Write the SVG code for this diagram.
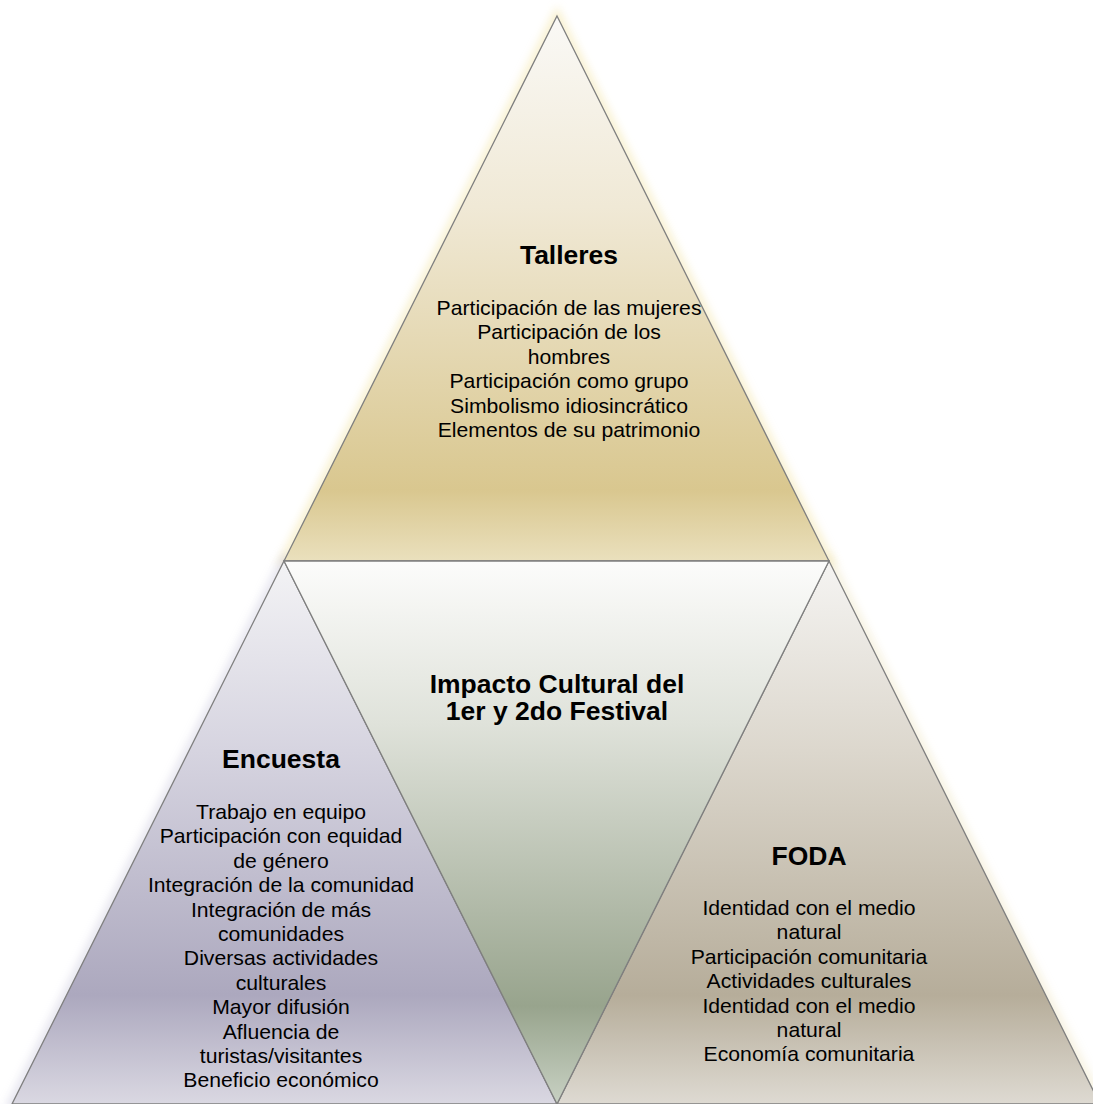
<svg xmlns="http://www.w3.org/2000/svg" width="1093" height="1104" viewBox="0 0 1093 1104">
<style>
.tri{stroke:#7f7f7f;stroke-width:1.3;stroke-linejoin:miter}
.glow{fill:none;stroke-width:9;opacity:0.55;filter:url(#blur)}
text{font-family:"Liberation Sans",Arial,sans-serif;fill:#000;text-anchor:middle}
.t{font-size:25px;font-weight:bold}
.b{font-size:20px}
</style>
<defs>
<filter id="blur" x="-20%" y="-20%" width="140%" height="140%"><feGaussianBlur stdDeviation="4"/></filter>
<linearGradient id="gTop" gradientUnits="userSpaceOnUse" x1="0" y1="16" x2="0" y2="561">
<stop offset="0" stop-color="#faf9f6"/>
<stop offset="0.35" stop-color="#f0e9d6"/>
<stop offset="0.87" stop-color="#d9c78f"/>
<stop offset="1" stop-color="#eae0bd"/>
</linearGradient>
<linearGradient id="gLeft" gradientUnits="userSpaceOnUse" x1="0" y1="561" x2="0" y2="1104">
<stop offset="0" stop-color="#f3f3f5"/>
<stop offset="0.35" stop-color="#d6d4e0"/>
<stop offset="0.8" stop-color="#aca8be"/>
<stop offset="1" stop-color="#dad8e2"/>
</linearGradient>
<linearGradient id="gMid" gradientUnits="userSpaceOnUse" x1="0" y1="561" x2="0" y2="1104">
<stop offset="0" stop-color="#fcfcfb"/>
<stop offset="0.3" stop-color="#dfe2da"/>
<stop offset="0.82" stop-color="#98a48d"/>
<stop offset="1" stop-color="#c8d1c3"/>
</linearGradient>
<linearGradient id="gRight" gradientUnits="userSpaceOnUse" x1="0" y1="561" x2="0" y2="1104">
<stop offset="0" stop-color="#f5f4f2"/>
<stop offset="0.35" stop-color="#dcd7cd"/>
<stop offset="0.8" stop-color="#b6ad9a"/>
<stop offset="1" stop-color="#dedad2"/>
</linearGradient>
</defs>
<rect width="1093" height="1104" fill="#ffffff"/>
<g id="glows">
<polygon class="glow" stroke="#f3e4a6" points="557,16 829,561 284,561"/>
<polygon class="glow" stroke="#cfcde0" points="284,561 557,1104 12,1104"/>
<polygon class="glow" stroke="#efe6c4" points="829,561 1100,1104 557,1104"/>
</g>
<g id="talleres">
<polygon class="tri" fill="url(#gTop)" points="557,16 829,561 284,561"/>
<text class="t" transform="translate(569,0) scale(1.06,1)" x="0" y="264">Talleres</text>
<g class="b">
<text class="b" transform="translate(569,0) scale(1.06,1)" x="0" y="315">Participación de las mujeres</text>
<text class="b" transform="translate(569,0) scale(1.06,1)" x="0" y="339.4">Participación de los</text>
<text class="b" transform="translate(569,0) scale(1.06,1)" x="0" y="363.8">hombres</text>
<text class="b" transform="translate(569,0) scale(1.06,1)" x="0" y="388.2">Participación como grupo</text>
<text class="b" transform="translate(569,0) scale(1.06,1)" x="0" y="412.6">Simbolismo idiosincrático</text>
<text class="b" transform="translate(569,0) scale(1.06,1)" x="0" y="437">Elementos de su patrimonio</text>
</g>
</g>
<g id="encuesta">
<polygon class="tri" fill="url(#gLeft)" points="284,561 557,1104 12,1104"/>
<text class="t" transform="translate(281,0) scale(1.06,1)" x="0" y="768">Encuesta</text>
<text class="b" transform="translate(281,0) scale(1.06,1)" x="0" y="819">Trabajo en equipo</text>
<text class="b" transform="translate(281,0) scale(1.06,1)" x="0" y="843.4">Participación con equidad</text>
<text class="b" transform="translate(281,0) scale(1.06,1)" x="0" y="867.8">de género</text>
<text class="b" transform="translate(281,0) scale(1.06,1)" x="0" y="892.2">Integración de la comunidad</text>
<text class="b" transform="translate(281,0) scale(1.06,1)" x="0" y="916.6">Integración de más</text>
<text class="b" transform="translate(281,0) scale(1.06,1)" x="0" y="941">comunidades</text>
<text class="b" transform="translate(281,0) scale(1.06,1)" x="0" y="965.4">Diversas actividades</text>
<text class="b" transform="translate(281,0) scale(1.06,1)" x="0" y="989.8">culturales</text>
<text class="b" transform="translate(281,0) scale(1.06,1)" x="0" y="1014.2">Mayor difusión</text>
<text class="b" transform="translate(281,0) scale(1.06,1)" x="0" y="1038.6">Afluencia de</text>
<text class="b" transform="translate(281,0) scale(1.06,1)" x="0" y="1063">turistas/visitantes</text>
<text class="b" transform="translate(281,0) scale(1.06,1)" x="0" y="1087.4">Beneficio económico</text>
</g>
<g id="foda">
<polygon class="tri" fill="url(#gRight)" points="829,561 1100,1104 557,1104"/>
<text class="t" transform="translate(809,0) scale(1.06,1)" x="0" y="865">FODA</text>
<text class="b" transform="translate(809,0) scale(1.06,1)" x="0" y="915">Identidad con el medio</text>
<text class="b" transform="translate(809,0) scale(1.06,1)" x="0" y="939.4">natural</text>
<text class="b" transform="translate(809,0) scale(1.06,1)" x="0" y="963.8">Participación comunitaria</text>
<text class="b" transform="translate(809,0) scale(1.06,1)" x="0" y="988.2">Actividades culturales</text>
<text class="b" transform="translate(809,0) scale(1.06,1)" x="0" y="1012.6">Identidad con el medio</text>
<text class="b" transform="translate(809,0) scale(1.06,1)" x="0" y="1037">natural</text>
<text class="b" transform="translate(809,0) scale(1.06,1)" x="0" y="1061.4">Economía comunitaria</text>
</g>
<g id="impacto">
<polygon class="tri" fill="url(#gMid)" points="284,561 829,561 557,1104"/>
<text class="t" transform="translate(557,0) scale(1.06,1)" x="0" y="693">Impacto Cultural del</text>
<text class="t" transform="translate(557,0) scale(1.06,1)" x="0" y="720">1er y 2do Festival</text>
</g>
</svg>
